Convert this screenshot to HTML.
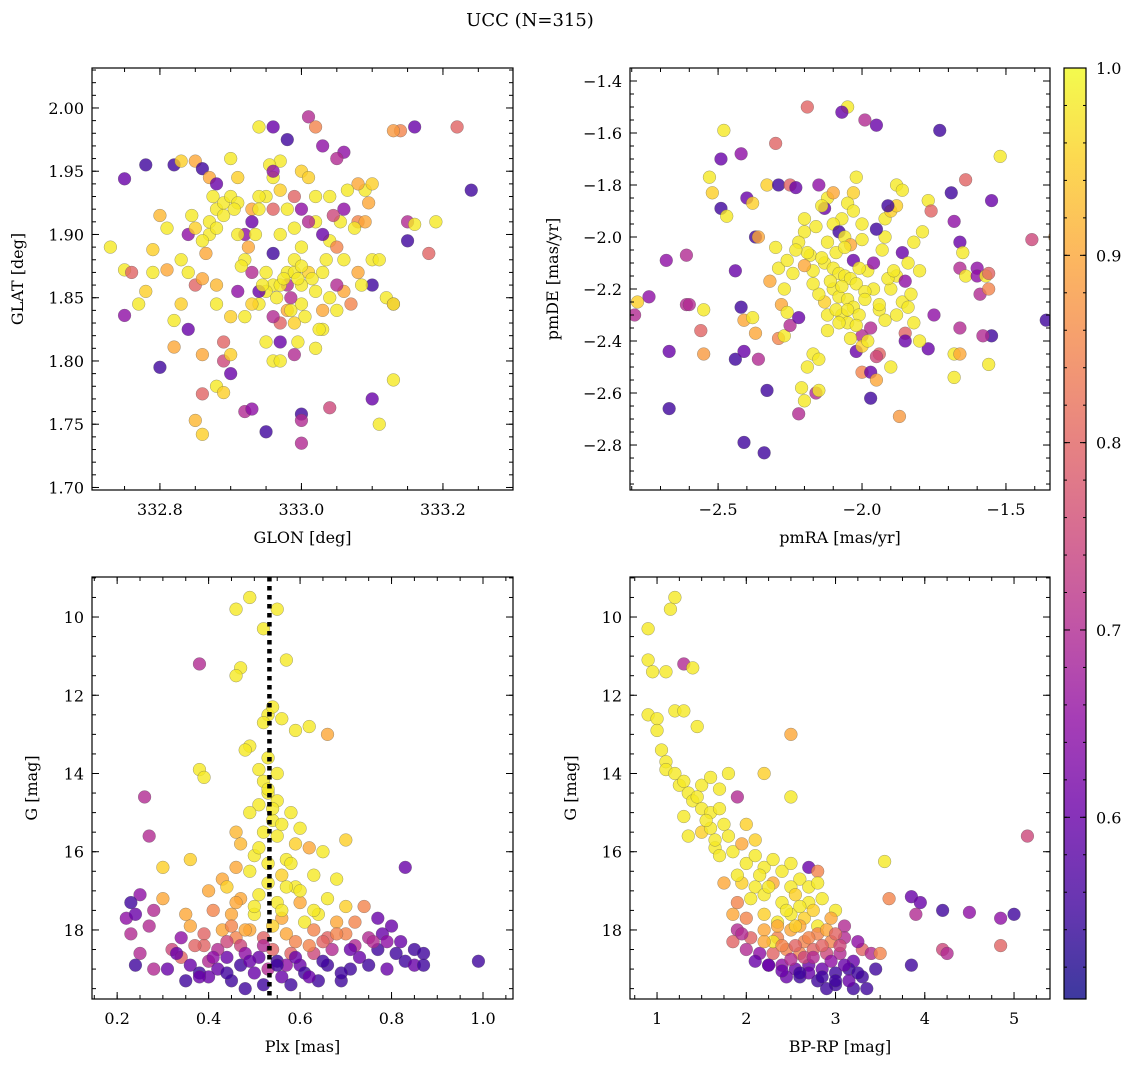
<!DOCTYPE html>
<html><head><meta charset="utf-8"><style>
body{margin:0;background:#fff;}
svg{display:block;font-family:"DejaVu Serif","Liberation Serif",serif;}
</style></head><body>
<svg id="chart" width="1136" height="1067" viewBox="0 0 1136 1067">
<rect width="1136" height="1067" fill="#fff"/>
<text x="530" y="26" font-size="18" text-anchor="middle">UCC (N=315)</text>
</svg>
<script>
const NS="http://www.w3.org/2000/svg";
const svg=document.getElementById('chart');
// ---- data arrays ----
const glon=[332.78,332.82,332.75,332.73,332.75,332.76,332.77,332.75,332.78,332.79,332.80,332.81,332.82,332.80,332.83,332.85,332.86,332.84,332.83,332.85,332.84,332.86,332.85,332.86,332.86,332.88,332.89,332.90,332.92,332.87,332.88,332.88,332.89,332.90,332.90,332.91,332.92,332.93,332.94,332.94,332.96,332.97,332.98,333.01,333.02,333.03,333.06,333.05,332.99,333.00,333.01,332.97,332.96,332.92,332.93,332.95,332.96,332.97,332.98,332.99,333.00,333.01,333.00,332.98,332.97,332.96,332.94,332.93,332.92,332.90,332.88,332.88,332.89,332.89,332.90,332.95,332.96,332.99,332.97,333.02,333.03,333.05,333.06,333.05,333.07,333.08,333.06,333.04,333.05,333.03,333.02,333.01,333.00,332.99,333.02,333.04,333.06,333.08,333.09,333.10,333.08,333.09,333.10,333.11,333.10,333.12,333.13,333.13,333.15,333.15,333.16,333.19,333.18,333.14,333.13,333.16,333.22,333.24,333.10,333.11,333.13,333.00,333.00,333.00,332.93,333.04,332.95,332.87,332.86,332.85,332.87,332.88,332.84,332.86,332.83,332.82,332.91,332.95,332.96,332.94,332.98,333.00,332.99,333.03,333.02,333.00,332.98,332.96,332.97,332.95,333.04,333.03,332.94,332.91,332.97,332.985,332.99,
332.89,332.91,332.93,332.975,332.995,333.015,332.965,332.985,333.005,332.945,332.925,332.905,332.875,333.035,333.055,333.075,333.095,332.955,332.935,333.025,332.865,332.845,332.915,332.995,333.045,332.81,332.79,333.065,333.085,332.96];
const glat=[1.955,1.955,1.944,1.89,1.872,1.87,1.845,1.836,1.855,1.888,1.915,1.872,1.811,1.795,1.958,1.958,1.952,1.9,1.88,1.86,1.825,1.805,1.753,1.742,1.774,1.78,1.775,1.79,1.76,1.945,1.94,1.92,1.925,1.93,1.96,1.945,1.9,1.92,1.92,1.985,1.985,1.958,1.975,1.993,1.985,1.97,1.965,1.96,1.93,1.95,1.945,1.935,1.945,1.88,1.87,1.87,1.885,1.9,1.87,1.87,1.86,1.87,1.845,1.84,1.83,1.835,1.845,1.845,1.835,1.835,1.845,1.86,1.815,1.80,1.805,1.815,1.80,1.805,1.80,1.81,1.825,1.84,1.855,1.86,1.845,1.87,1.88,1.895,1.89,1.9,1.91,1.91,1.92,1.905,1.93,1.93,1.92,1.91,1.935,1.94,1.94,1.91,1.88,1.88,1.86,1.85,1.845,1.845,1.895,1.91,1.908,1.91,1.885,1.982,1.982,1.985,1.985,1.935,1.77,1.75,1.785,1.758,1.753,1.735,1.762,1.763,1.744,1.90,1.895,1.905,1.91,1.905,1.87,1.865,1.845,1.832,1.9,1.93,1.92,1.93,1.92,1.89,1.88,1.87,1.855,1.875,1.86,1.86,1.86,1.855,1.85,1.84,1.855,1.855,1.815,1.84,1.83,
1.915,1.925,1.91,1.865,1.865,1.865,1.85,1.85,1.835,1.86,1.89,1.92,1.93,1.88,1.91,1.905,1.925,1.955,1.9,1.825,1.885,1.915,1.875,1.815,1.915,1.905,1.87,1.935,1.86,1.95];
const probA=[0.55,0.55,0.6,0.98,0.98,0.8,0.98,0.65,0.95,0.95,0.92,0.9,0.9,0.55,0.95,0.9,0.55,0.65,0.98,0.8,0.6,0.9,0.92,0.95,0.8,0.98,0.95,0.6,0.7,0.9,0.6,0.98,0.98,0.98,0.98,0.95,0.65,0.9,0.98,0.98,0.6,0.98,0.55,0.7,0.85,0.65,0.65,0.7,0.8,0.95,0.95,0.95,0.98,0.98,0.7,0.98,0.55,0.98,0.98,0.98,0.98,0.95,0.98,0.9,0.8,0.7,0.98,0.95,0.98,0.95,0.98,0.92,0.8,0.75,0.95,0.98,0.98,0.7,0.98,0.98,0.98,0.98,0.9,0.7,0.85,0.9,0.98,0.98,0.85,0.6,0.98,0.7,0.65,0.98,0.98,0.98,0.65,0.85,0.98,0.95,0.9,0.9,0.98,0.98,0.55,0.98,0.8,0.98,0.55,0.7,0.98,0.98,0.8,0.85,0.88,0.6,0.8,0.55,0.6,0.98,0.98,0.55,0.7,0.7,0.65,0.75,0.55,0.98,0.98,0.95,0.98,0.98,0.98,0.9,0.95,0.98,0.98,0.98,0.8,0.98,0.98,0.98,0.98,0.98,0.98,0.98,0.7,0.98,0.98,0.98,0.98,0.9,0.6,0.65,0.6,0.98,0.95,
0.98,0.98,0.6,0.98,0.98,0.98,0.98,0.7,0.98,0.98,0.9,0.98,0.98,0.98,0.98,0.98,0.9,0.98,0.98,0.98,0.9,0.98,0.98,0.98,0.75,0.98,0.98,0.98,0.98,0.65];
const pmra=[-2.78,-2.79,-2.74,-2.68,-2.67,-2.67,-2.61,-2.61,-2.56,-2.55,-2.55,-2.53,-2.52,-2.48,-2.49,-2.49,-2.47,-2.42,-2.40,-2.38,-2.37,-2.36,-2.44,-2.42,-2.41,-2.44,-2.41,-2.38,-2.37,-2.36,-2.41,-2.34,-2.33,-2.33,-2.30,-2.29,-2.25,-2.23,-2.30,-2.29,-2.27,-2.28,-2.26,-2.29,-2.27,-2.25,-2.22,-2.19,-2.19,-2.21,-2.20,-2.22,-2.17,-2.15,-2.16,-2.15,-2.20,-2.20,-2.22,-2.18,-2.17,-2.20,-2.12,-2.12,-2.15,-2.10,-2.05,-2.07,-2.02,-2.03,-2.05,-2.07,-2.10,-2.08,-2.06,-2.04,-2.00,-2.00,-2.13,-2.10,-2.08,-2.06,-2.04,-2.02,-2.10,-2.08,-2.05,-2.03,-2.13,-2.15,-2.12,-2.07,-2.05,-2.01,-2.00,-2.04,-2.02,-2.00,-2.00,-1.97,-1.95,-1.97,-1.90,-1.94,-1.95,-1.96,-1.98,-1.96,-1.93,-1.92,-1.95,-1.92,-1.90,-1.88,-1.88,-1.86,-1.91,-1.95,-1.99,-1.94,-1.92,-1.88,-1.86,-1.90,-1.88,-1.86,-1.84,-1.85,-1.83,-1.80,-1.82,-1.79,-1.77,-1.76,-1.73,-1.69,-1.68,-1.66,-1.64,-1.65,-1.66,-1.64,-1.60,-1.60,-1.57,-1.56,-1.59,-1.56,-1.55,-1.52,-1.55,-1.58,-1.56,-1.68,-1.66,-1.68,-1.66,-1.75,-1.77,-1.80,-1.82,-1.85,-1.87,-1.85,-1.41,-1.33,-1.36,-2.60,
-2.14,-2.11,-2.09,-2.07,-2.03,-1.99,-2.01,-2.09,-2.17,-2.24,-1.97,-2.12,-2.06,-1.94,-2.19,-2.03,-1.91,-2.16,-2.08,-1.98,-2.13,-2.05,-2.26,-2.23,-1.89,-1.84,-2.32,-2.14,-2.02,-1.99];
const pmde=[-2.25,-2.30,-2.23,-2.09,-2.44,-2.66,-2.07,-2.26,-2.36,-2.45,-2.28,-1.77,-1.83,-1.59,-1.70,-1.89,-1.92,-1.68,-1.85,-1.87,-2.00,-2.00,-2.13,-2.27,-2.32,-2.47,-2.44,-2.31,-2.37,-2.47,-2.79,-2.83,-2.59,-1.80,-1.64,-1.80,-1.80,-1.81,-2.04,-2.12,-2.20,-2.26,-2.29,-2.39,-2.38,-2.34,-2.31,-2.50,-1.50,-2.58,-2.63,-2.68,-2.45,-2.47,-2.60,-2.59,-1.93,-1.98,-2.02,-2.07,-2.13,-2.11,-2.02,-1.85,-1.80,-1.83,-1.50,-1.52,-1.77,-1.83,-1.87,-1.93,-1.95,-1.98,-2.00,-2.03,-1.95,-2.01,-2.10,-2.12,-2.14,-2.15,-2.16,-2.18,-2.20,-2.23,-2.24,-2.27,-2.25,-2.22,-2.30,-2.30,-2.33,-2.30,-2.38,-2.39,-2.44,-2.42,-2.52,-2.52,-2.55,-2.62,-2.50,-2.45,-2.46,-2.20,-2.13,-2.10,-2.05,-2.00,-1.97,-1.93,-1.90,-1.88,-1.80,-1.82,-1.88,-1.57,-1.55,-2.28,-2.32,-2.30,-2.25,-2.20,-2.15,-2.06,-2.10,-2.17,-2.22,-2.13,-2.02,-1.98,-1.86,-1.90,-1.59,-1.83,-1.94,-2.02,-1.78,-2.06,-2.12,-2.15,-2.12,-2.15,-2.15,-2.14,-2.22,-2.20,-1.86,-1.69,-2.38,-2.38,-2.49,-2.45,-2.45,-2.54,-2.35,-2.30,-2.43,-2.40,-2.33,-2.37,-2.69,-2.40,-2.01,-2.00,-2.32,-2.26,
-2.08,-2.17,-2.06,-2.19,-2.09,-2.21,-2.12,-2.28,-2.18,-2.14,-2.35,-2.36,-2.04,-2.26,-2.06,-1.90,-2.16,-1.96,-2.33,-2.40,-1.89,-2.28,-2.09,-2.05,-2.13,-2.27,-2.17,-1.88,-2.34,-2.24];
const probB=[0.95,0.7,0.65,0.65,0.6,0.55,0.7,0.7,0.8,0.88,0.98,0.98,0.95,0.98,0.6,0.55,0.98,0.65,0.6,0.95,0.55,0.9,0.6,0.55,0.9,0.55,0.6,0.98,0.9,0.7,0.55,0.55,0.55,0.95,0.8,0.55,0.8,0.6,0.98,0.98,0.98,0.9,0.98,0.85,0.98,0.7,0.6,0.98,0.8,0.98,0.98,0.7,0.98,0.98,0.7,0.98,0.98,0.98,0.98,0.98,0.98,0.9,0.98,0.98,0.65,0.9,0.98,0.6,0.98,0.95,0.98,0.98,0.98,0.55,0.98,0.9,0.98,0.98,0.98,0.98,0.98,0.98,0.98,0.98,0.98,0.98,0.98,0.98,0.95,0.98,0.98,0.98,0.98,0.98,0.7,0.98,0.6,0.95,0.85,0.6,0.9,0.55,0.98,0.8,0.75,0.98,0.98,0.65,0.98,0.98,0.55,0.98,0.95,0.95,0.98,0.98,0.55,0.6,0.7,0.98,0.98,0.98,0.98,0.98,0.98,0.6,0.98,0.65,0.98,0.98,0.98,0.98,0.98,0.8,0.55,0.55,0.65,0.6,0.8,0.98,0.7,0.98,0.65,0.65,0.98,0.8,0.7,0.85,0.6,0.98,0.55,0.7,0.98,0.98,0.9,0.98,0.7,0.65,0.6,0.98,0.98,0.8,0.88,0.6,0.75,0.9,0.55,0.7,
0.98,0.98,0.98,0.98,0.6,0.98,0.98,0.98,0.98,0.98,0.7,0.98,0.98,0.98,0.98,0.98,0.98,0.98,0.98,0.98,0.6,0.98,0.98,0.98,0.98,0.98,0.9,0.98,0.98,0.98];
const plx=[0.49,0.46,0.52,0.55,0.47,0.46,0.57,0.38,0.53,0.52,0.54,0.56,0.59,0.62,0.66,0.49,0.48,0.53,0.51,0.55,0.38,0.39,0.53,0.55,0.51,0.49,0.54,0.52,0.56,0.58,0.60,0.46,0.47,0.59,0.62,0.65,0.70,0.50,0.53,0.57,0.46,0.49,0.56,0.59,0.63,0.68,0.36,0.30,0.43,0.44,0.40,0.47,0.51,0.55,0.60,0.66,0.70,0.74,0.83,0.30,0.25,0.27,0.26,0.35,0.41,0.45,0.50,0.56,0.61,0.64,0.68,0.72,0.77,0.80,0.36,0.39,0.43,0.46,0.49,0.52,0.57,0.59,0.63,0.66,0.70,0.75,0.78,0.82,0.85,0.23,0.22,0.24,0.28,0.27,0.23,0.25,0.24,0.28,0.31,0.32,0.34,0.34,0.36,0.35,0.38,0.39,0.40,0.42,0.44,0.45,0.47,0.48,0.50,0.51,0.53,0.55,0.56,0.58,0.60,0.61,0.63,0.64,0.66,0.67,0.69,0.71,0.73,0.75,0.77,0.79,0.81,0.83,0.85,0.87,0.87,0.99,0.69,0.42,0.47,0.54,0.58,0.62,0.65,0.72,0.48,0.57,0.52,0.44,0.62,0.40,
0.52,0.54,0.55,0.51,0.53,0.57,0.50,0.54,0.52,0.56,0.49,0.53,0.60,0.58,0.45,0.44,0.37,0.33,0.41,0.48,0.55,0.59,0.65,0.68,0.71,0.76,0.79,0.38,0.46,0.63];
const gmagA=[9.5,9.8,10.3,9.8,11.3,11.5,11.1,11.2,12.5,12.7,12.3,12.6,12.9,12.8,13.0,13.3,13.4,13.6,13.9,14.0,13.9,14.1,14.5,14.7,14.8,15.0,15.2,15.5,15.3,15.0,15.4,15.5,15.8,15.8,15.9,16.0,15.7,16.1,16.3,16.2,16.4,16.5,16.6,16.9,16.6,16.7,16.2,16.4,16.7,16.9,17.0,17.2,17.1,17.3,17.3,17.2,17.4,17.4,16.4,17.2,17.1,15.6,14.6,17.6,17.5,17.6,17.6,17.7,17.8,17.6,17.8,17.8,17.7,17.9,17.9,18.1,18.0,18.2,18.0,18.2,18.1,18.3,18.0,18.2,18.1,18.2,18.1,18.3,18.5,17.3,17.7,17.6,17.5,17.9,18.1,18.6,18.9,19.0,19.0,18.5,18.2,18.7,18.9,19.3,19.1,18.4,18.8,19.0,18.7,19.3,18.9,19.5,19.1,18.7,19.0,18.8,19.2,19.4,18.9,19.1,18.6,19.3,18.9,18.5,19.3,19.0,18.7,18.9,18.5,19.0,18.6,18.8,18.9,18.6,18.9,18.8,19.1,18.5,18.4,18.5,18.6,18.4,18.3,18.4,18.6,18.9,19.4,19.1,19.2,19.2,
14.2,14.9,15.6,15.9,16.8,16.9,17.4,17.9,18.4,17.5,18.8,14.4,17.0,16.3,17.9,18.3,18.4,18.6,18.7,18.0,18.9,18.7,18.8,18.1,18.5,18.3,18.3,19.2,17.3,17.5];
const probC=[0.98,0.98,0.98,0.98,0.98,0.98,0.98,0.7,0.98,0.98,0.98,0.98,0.98,0.98,0.9,0.98,0.98,0.98,0.98,0.98,0.98,0.98,0.98,0.98,0.98,0.98,0.98,0.98,0.98,0.98,0.98,0.92,0.92,0.95,0.9,0.98,0.95,0.98,0.98,0.98,0.9,0.98,0.95,0.98,0.98,0.98,0.95,0.95,0.9,0.95,0.9,0.9,0.98,0.98,0.9,0.98,0.95,0.85,0.6,0.9,0.65,0.7,0.7,0.9,0.85,0.9,0.98,0.9,0.98,0.98,0.9,0.85,0.6,0.6,0.9,0.8,0.9,0.85,0.9,0.8,0.9,0.85,0.85,0.8,0.85,0.7,0.6,0.6,0.55,0.55,0.65,0.6,0.7,0.7,0.7,0.7,0.55,0.7,0.6,0.75,0.65,0.8,0.6,0.55,0.55,0.8,0.7,0.6,0.6,0.55,0.55,0.55,0.6,0.6,0.7,0.55,0.6,0.55,0.6,0.55,0.75,0.55,0.55,0.7,0.55,0.55,0.6,0.55,0.55,0.6,0.55,0.55,0.6,0.55,0.55,0.55,0.55,0.7,0.75,0.8,0.8,0.85,0.8,0.7,0.65,0.65,0.55,0.55,0.6,0.6,
0.98,0.98,0.98,0.98,0.98,0.98,0.98,0.95,0.7,0.98,0.6,0.98,0.98,0.98,0.85,0.75,0.8,0.6,0.65,0.9,0.55,0.6,0.55,0.85,0.6,0.7,0.65,0.6,0.9,0.98];
const bprp=[0.9,0.9,0.95,1.1,1.2,1.15,1.3,1.4,0.9,1.0,1.0,1.2,1.3,1.45,1.05,1.1,1.1,1.2,1.25,1.3,1.35,1.4,1.5,1.6,1.7,1.8,1.5,1.6,1.7,1.75,1.3,1.35,1.5,1.6,1.8,1.85,1.65,1.7,2.0,2.1,2.2,1.9,2.5,2.5,1.95,2.0,2.1,2.2,2.3,2.4,2.5,2.6,2.7,1.75,1.95,2.1,2.3,2.5,2.7,2.8,2.8,1.9,2.05,2.2,2.4,2.55,2.7,2.85,3.0,1.85,2.0,2.2,2.35,2.5,2.65,2.8,2.95,3.1,1.9,2.05,2.2,2.35,2.5,2.65,2.8,2.95,3.1,3.3,1.85,2.0,2.15,2.3,2.45,2.6,2.75,2.9,3.05,3.2,3.4,3.5,2.1,2.25,2.4,2.55,2.7,2.85,3.0,3.15,3.3,3.45,2.6,2.8,3.0,3.2,3.35,2.45,2.9,3.15,3.55,3.6,3.85,3.95,3.9,4.2,4.2,4.25,4.5,4.85,4.85,5.0,5.15,3.85,2.3,2.6,3.25,2.2,1.95,
1.45,1.55,1.65,1.9,2.15,2.25,2.45,2.6,2.75,2.9,3.0,2.35,2.55,2.7,2.85,3.05,2.4,2.55,2.65,2.75,2.95,3.1,3.25,2.5,2.7,2.85,3.0,2.25,2.4,2.6];
const gmagB=[10.3,11.1,11.4,11.4,9.5,9.8,11.2,11.3,12.5,12.6,12.9,12.4,12.4,12.8,13.4,13.7,13.9,14.0,14.3,14.2,14.5,14.7,14.3,14.1,14.4,14.0,14.9,15.0,14.9,15.3,15.1,15.6,15.5,15.4,15.6,16.0,15.9,16.1,15.3,15.7,14.0,14.6,13.0,14.6,15.8,16.3,16.1,16.4,16.2,16.5,16.3,16.7,16.4,16.8,16.8,16.9,16.8,16.9,16.9,16.5,16.8,17.3,17.2,17.1,17.3,17.1,17.3,17.2,17.5,17.6,17.7,17.6,17.8,17.6,17.7,17.9,17.7,17.9,18.0,18.2,18.0,18.2,18.0,18.3,18.1,18.3,18.2,18.5,18.3,18.5,18.6,18.6,18.5,18.6,18.5,18.6,18.6,18.8,18.6,18.6,18.8,18.9,18.9,19.0,18.9,19.0,19.1,19.0,19.2,19.0,19.2,19.3,19.4,19.5,19.5,19.2,19.5,19.3,16.25,17.2,17.15,17.3,17.6,17.5,18.5,18.6,17.55,17.7,18.4,17.6,15.6,18.9,18.3,17.9,18.3,18.3,18.1,
14.6,15.2,15.7,16.6,16.6,16.9,17.5,17.4,17.5,18.0,18.1,17.9,17.9,18.2,18.4,18.4,18.4,18.4,18.7,18.7,18.8,18.9,19.1,18.75,19.1,19.2,19.3,18.9,19.05,19.1];
const probD=[0.98,0.98,0.98,0.98,0.98,0.98,0.7,0.98,0.98,0.98,0.98,0.98,0.98,0.98,0.98,0.98,0.98,0.98,0.98,0.98,0.98,0.98,0.98,0.98,0.98,0.98,0.98,0.98,0.98,0.98,0.98,0.98,0.95,0.98,0.98,0.98,0.98,0.98,0.95,0.95,0.95,0.7,0.9,0.98,0.9,0.98,0.98,0.98,0.98,0.98,0.98,0.98,0.6,0.9,0.95,0.98,0.9,0.98,0.98,0.85,0.98,0.85,0.98,0.98,0.98,0.95,0.98,0.98,0.98,0.9,0.85,0.95,0.98,0.98,0.95,0.98,0.9,0.7,0.7,0.8,0.9,0.85,0.9,0.85,0.85,0.85,0.7,0.8,0.8,0.7,0.65,0.8,0.85,0.85,0.8,0.75,0.7,0.6,0.7,0.85,0.6,0.6,0.65,0.6,0.6,0.6,0.55,0.55,0.55,0.55,0.55,0.55,0.55,0.55,0.55,0.6,0.55,0.6,0.98,0.85,0.6,0.6,0.7,0.55,0.75,0.7,0.65,0.65,0.8,0.55,0.75,0.55,0.98,0.9,0.65,0.9,0.7,
0.98,0.98,0.98,0.98,0.98,0.98,0.98,0.98,0.95,0.9,0.8,0.9,0.95,0.85,0.8,0.75,0.85,0.8,0.75,0.7,0.65,0.6,0.55,0.7,0.6,0.55,0.55,0.6,0.6,0.55];
const cbTicks=[0.6,0.7,0.8,0.9,1.0];

// ---- helpers ----
const plasma=['#0d0887','#41049d','#6a00a8','#8f0da4','#b12a90','#cc4778','#e16462','#f2844b','#fca636','#fcce25','#f0f921'];
const PMIN=0.503,PMAX=1.0;
function hex(c){return [1,3,5].map(i=>parseInt(c.substr(i,2),16));}
function cmap(t){t=Math.max(0,Math.min(1,t));const f=t*10,i=Math.min(9,Math.floor(f)),r=f-i;const a=hex(plasma[i]),b=hex(plasma[i+1]);return 'rgb('+a.map((v,k)=>Math.round(v+(b[k]-v)*r)).join(',')+')';}
function el(tag,attrs,parent){const e=document.createElementNS(NS,tag);for(const k in attrs)e.setAttribute(k,attrs[k]);(parent||svg).appendChild(e);return e;}

function panel(cfg){
  const g=el('g',{});
  
  
  const {x0,x1,y0,y1,xmin,xmax,ymin,ymax}=cfg;
  const sx=v=>x0+(v-xmin)/(xmax-xmin)*(x1-x0);
  const sy=v=>cfg.invert? y0+(v-ymin)/(ymax-ymin)*(y1-y0) : y1-(v-ymin)/(ymax-ymin)*(y1-y0);
  const cp='cp'+cfg.name;
  const defs=el('defs',{},g);const c=el('clipPath',{id:cp},defs);el('rect',{x:x0,y:y0,width:x1-x0,height:y1-y0},c);
  const pts=el('g',{'clip-path':'url(#'+cp+')'},g);
  
  
  for(let i=0;i<cfg.xs.length;i++){
    const p=el('circle',{cx:sx(cfg.xs[i]),cy:sy(cfg.ys[i]),r:6.4,fill:cmap((cfg.ps[i]-PMIN)/(PMAX-PMIN)),'fill-opacity':0.8,stroke:'#555','stroke-width':0.4,'stroke-opacity':0.7},pts);
    
    
  }
  if(cfg.vline!==undefined){
    const l=el('line',{x1:sx(cfg.vline),x2:sx(cfg.vline),y1:y0,y2:y1,stroke:'#000','stroke-width':4.5,'stroke-dasharray':'4.5 4.5'},g);
    
    
  }
  el('rect',{x:x0,y:y0,width:x1-x0,height:y1-y0,fill:'none',stroke:'#000','stroke-width':1.2},g);
  const eps=1e-9;
  function ticksX(step,len,labels){
    for(let v=Math.ceil(xmin/step-eps)*step;v<=xmax+eps;v+=step){const X=sx(v);
      el('line',{x1:X,x2:X,y1:y1,y2:y1-len,stroke:'#000','stroke-width':1},g);
      el('line',{x1:X,x2:X,y1:y0,y2:y0+len,stroke:'#000','stroke-width':1},g);
      if(labels){const t=el('text',{x:X,y:y1+25,'font-size':16,'text-anchor':'middle'},g);t.textContent=cfg.fx(v);
        }
    }}
  function ticksY(step,len,labels){
    for(let v=Math.ceil(ymin/step-eps)*step;v<=ymax+eps;v+=step){const Y=sy(v);
      el('line',{x1:x0,x2:x0+len,y1:Y,y2:Y,stroke:'#000','stroke-width':1},g);
      el('line',{x1:x1,x2:x1-len,y1:Y,y2:Y,stroke:'#000','stroke-width':1},g);
      if(labels){const t=el('text',{x:x0-8,y:Y+6,'font-size':16,'text-anchor':'end'},g);t.textContent=cfg.fy(v);
        }
    }}
  ticksX(cfg.xmaj,7,true);ticksX(cfg.xmin_,4,false);
  ticksY(cfg.ymaj,7,true);ticksY(cfg.ymin_,4,false);
  const xl=el('text',{x:(x0+x1)/2,y:y1+53,'font-size':16,'text-anchor':'middle'},g);xl.textContent=cfg.xlabel;
  
  const yx=cfg.ylx,yc=(y0+y1)/2;
  const yl=el('text',{x:yx,y:yc,'font-size':16,'text-anchor':'middle',transform:'rotate(-90 '+yx+' '+yc+')'},g);yl.textContent=cfg.ylabel;
  
}

panel({name:'glon-glat-panel',x0:92,x1:513,y0:68,y1:490,xmin:332.704,xmax:333.299,ymin:1.698,ymax:2.0316,
  xs:glon,ys:glat,ps:probA,xmaj:0.2,xmin_:0.05,ymaj:0.05,ymin_:0.01,fx:v=>v.toFixed(1),fy:v=>v.toFixed(2),xlabel:'GLON [deg]',ylabel:'GLAT [deg]',ylx:23});
panel({name:'pm-panel',x0:630,x1:1050,y0:68,y1:490,xmin:-2.806,xmax:-1.347,ymin:-2.973,ymax:-1.35,
  xs:pmra,ys:pmde,ps:probB,xmaj:0.5,xmin_:0.1,ymaj:0.2,ymin_:0.05,fx:v=>(v<0?'\u2212':'')+Math.abs(v).toFixed(1),fy:v=>(v<0?'\u2212':'')+Math.abs(v).toFixed(1),xlabel:'pmRA [mas/yr]',ylabel:'pmDE [mas/yr]',ylx:558});
panel({name:'plx-g-panel',x0:92,x1:513,y0:577,y1:999,xmin:0.145,xmax:1.0656,ymin:8.977,ymax:19.765,invert:true,vline:0.533,
  xs:plx,ys:gmagA,ps:probC,xmaj:0.2,xmin_:0.05,ymaj:2,ymin_:0.5,fx:v=>v.toFixed(1),fy:v=>Math.round(v)+'',xlabel:'Plx [mas]',ylabel:'G [mag]',ylx:37});
panel({name:'cmd-panel',x0:630,x1:1050,y0:577,y1:999,xmin:0.697,xmax:5.403,ymin:8.977,ymax:19.765,invert:true,
  xs:bprp,ys:gmagB,ps:probD,xmaj:1,xmin_:0.25,ymaj:2,ymin_:0.5,fx:v=>Math.round(v)+'',fy:v=>Math.round(v)+'',xlabel:'BP-RP [mag]',ylabel:'G [mag]',ylx:576});

(function(){
  const x0=1064,x1=1086,y0=68,y1=999;
  const g=el('g',{});
  
  
  const defs=el('defs',{},g);
  const lg=el('linearGradient',{id:'cbg',x1:0,y1:1,x2:0,y2:0},defs);
  for(let i=0;i<=20;i++){el('stop',{offset:(i/20),'stop-color':cmap(i/20),'stop-opacity':0.8},lg);}
  el('rect',{x:x0,y:y0,width:x1-x0,height:y1-y0,fill:'url(#cbg)'},g);
  el('rect',{x:x0,y:y0,width:x1-x0,height:y1-y0,fill:'none',stroke:'#000','stroke-width':1.2},g);
  const sy=v=>y1-(v-PMIN)/(PMAX-PMIN)*(y1-y0);
  for(let v=0.52;v<=1.0001;v+=0.02){const Y=sy(v);el('line',{x1:x1,x2:x1-3,y1:Y,y2:Y,stroke:'#000'},g);el('line',{x1:x0,x2:x0+3,y1:Y,y2:Y,stroke:'#000'},g);}
  cbTicks.forEach(v=>{const Y=sy(v);
    el('line',{x1:x1,x2:x1-6,y1:Y,y2:Y,stroke:'#000'},g);el('line',{x1:x0,x2:x0+6,y1:Y,y2:Y,stroke:'#000'},g);
    const t=el('text',{x:x1+10,y:Y+6,'font-size':16},g);t.textContent=v.toFixed(1);
    });
})();
</script>
</body></html>
